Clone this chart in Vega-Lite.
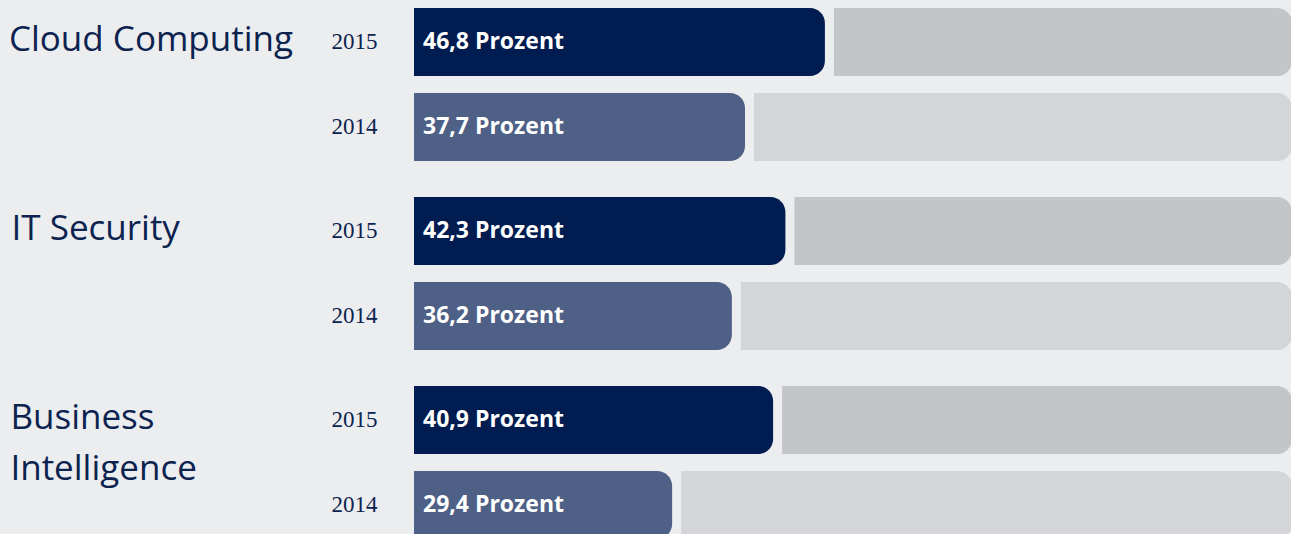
{
  "$schema": "https://vega.github.io/schema/vega-lite/v6.json",
  "background": "#ECEDEF",
  "padding": {"left": 8, "top": -28, "right": 0, "bottom": 0},
  "data": {
    "values": [
      {"category": "Cloud Computing", "year": "2015", "value": 46.8, "label": "46,8 Prozent"},
      {"category": "Cloud Computing", "year": "2014", "value": 37.7, "label": "37,7 Prozent"},
      {"category": "IT Security", "year": "2015", "value": 42.3, "label": "42,3 Prozent"},
      {"category": "IT Security", "year": "2014", "value": 36.2, "label": "36,2 Prozent"},
      {"category": "Business Intelligence", "year": "2015", "value": 40.9, "label": "40,9 Prozent"},
      {"category": "Business Intelligence", "year": "2014", "value": 29.4, "label": "29,4 Prozent"}
    ]
  },
  "facet": {
    "row": {
      "field": "category",
      "type": "nominal",
      "sort": ["Cloud Computing", "IT Security", "Business Intelligence"],
      "header": {
        "title": null,
        "labelAngle": 0,
        "labelAlign": "left",
        "labelAnchor": "end",
        "labelOrient": "left",
        "labelBaseline": "alphabetic",
        "labelLineHeight": 51,
        "labelFont": "Open Sans",
        "labelFontSize": 35,
        "labelColor": "#0C2350",
        "labelPadding": 38,
        "labelLimit": 0,
        "labelExpr": "datum.value == 'Business Intelligence' ? ['', 'Business', 'Intelligence  \u2800\u2800\u2800'] : datum.value == 'IT Security' ? ['', 'IT Security \u2800\u2800\u2800\u2800'] : ['', datum.value]"
      }
    }
  },
  "spacing": {"row": 28},
  "spec": {
    "width": 878,
    "height": 161,
    "encoding": {
      "y": {
        "field": "year",
        "type": "nominal",
        "sort": "descending",
        "scale": {"paddingInner": 0.2, "paddingOuter": 0.047, "align": 1},
        "axis": {
          "title": null,
          "domain": false,
          "ticks": false,
          "labelAlign": "left",
          "labelPadding": 83,
          "labelFont": "Liberation Serif",
          "labelFontSize": 23,
          "labelColor": "#0C2350"
        }
      }
    },
    "layer": [
      {
        "mark": {"type": "bar", "xOffset": 9, "cornerRadiusTopRight": 15, "cornerRadiusBottomRight": 15},
        "encoding": {
          "x": {"field": "value", "type": "quantitative", "scale": {"domain": [0, 100]}, "axis": null},
          "x2": {"datum": 100},
          "color": {"condition": {"test": "datum.year == '2015'", "value": "#C4C5C9"}, "value": "#D4D5D8"}
        }
      },
      {
        "mark": {"type": "bar", "cornerRadiusTopRight": 15, "cornerRadiusBottomRight": 15},
        "encoding": {
          "x": {"field": "value", "type": "quantitative", "stack": null},
          "color": {"condition": {"test": "datum.year == '2015'", "value": "#001C50"}, "value": "#4E6085"}
        }
      },
      {
        "mark": {"type": "text", "align": "left", "baseline": "middle", "dx": 9, "font": "Open Sans", "fontWeight": "bold", "fontSize": 23, "color": "#FFFFFF"},
        "encoding": {
          "x": {"datum": 0},
          "text": {"field": "label"}
        }
      }
    ]
  },
  "config": {"view": {"stroke": null}}
}
